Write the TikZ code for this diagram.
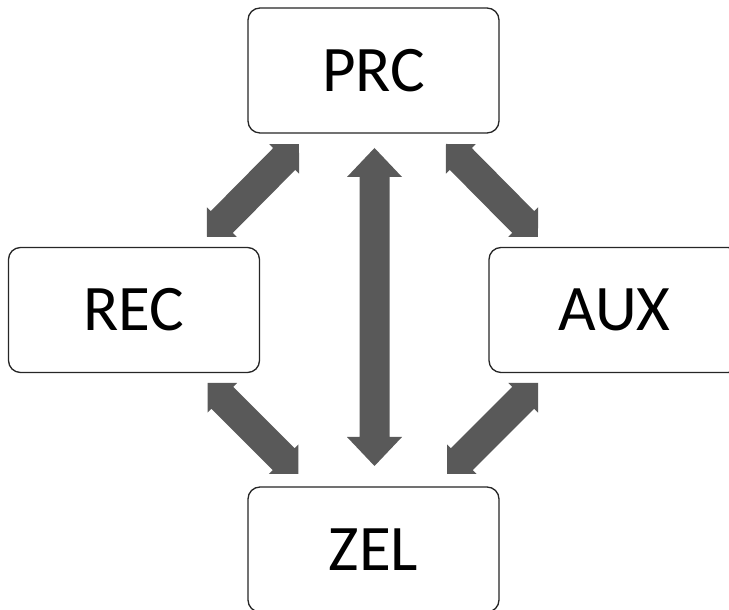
\documentclass[tikz,border=0pt]{standalone}
\usepackage{fontspec}
\setmainfont{Carlito}
\usetikzlibrary{calc}
\definecolor{arrowgray}{HTML}{595959}
\tikzset{
  box/.style={draw=black!85, line width=1.3pt, rounded corners=12pt, fill=white,
    minimum width=251pt, minimum height=125pt, inner sep=0pt,
    font=\fontsize{65}{78}\selectfont},
  arrowfill/.style={fill=arrowgray, draw=none}
}
\newcommand\blkarrow[5]{%
  \fill[arrowfill] let \p1=(#1), \p2=(#2),
    \n1={atan2(\y2-\y1,\x2-\x1)}, \n2={veclen(\x2-\x1,\y2-\y1)} in
    {[shift={(\x1,\y1)}, rotate=\n1]
     (0,0) -- (#5,#4) -- (#5,#3) -- (\n2-#5,#3) -- (\n2-#5,#4) -- (\n2,0)
     -- (\n2-#5,-#4) -- (\n2-#5,-#3) -- (#5,-#3) -- (#5,-#4) -- cycle};}
\begin{document}
\begin{tikzpicture}[x=1pt,y=1pt]
\useasboundingbox (0,0) rectangle (729,610);
\clip (0,0) rectangle (729,610);
\node[box] (prc) at (373.5,539.5) {PRC};
\node[box] (rec) at (134,300) {REC};
\node[box] (aux) at (614.5,300) {AUX};
\node[box] (zel) at (373.5,60.5) {ZEL};
% arrow end points
\coordinate (v1) at (374.5,144);
\coordinate (v2) at (374.5,462);
\coordinate (pr1) at (207,373);
\coordinate (pr2) at (299,466);
\coordinate (pa1) at (446,466);
\coordinate (pa2) at (538,373);
\coordinate (rz1) at (207.5,227);
\coordinate (rz2) at (298.5,136);
\coordinate (az1) at (538,227);
\coordinate (az2) at (447,136);
\blkarrow{v1}{v2}{15}{27.5}{29}
\blkarrow{pr1}{pr2}{15.5}{21}{21}
\blkarrow{pa1}{pa2}{15.5}{21}{21}
\blkarrow{rz1}{rz2}{15.5}{21}{21}
\blkarrow{az1}{az2}{15.5}{21}{21}
\end{tikzpicture}
\end{document}
